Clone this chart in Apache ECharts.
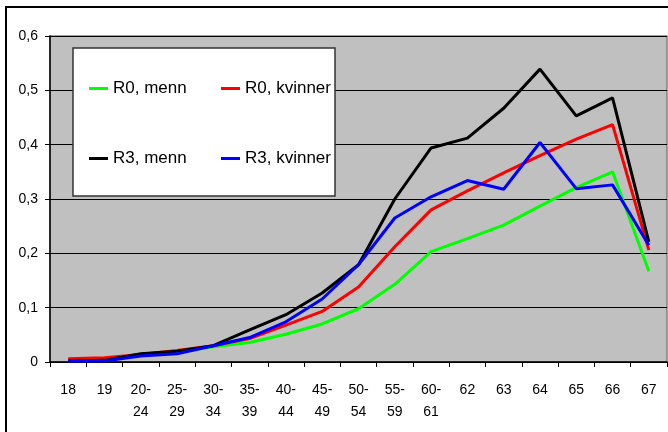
<!DOCTYPE html>
<html>
<head>
<meta charset="utf-8">
<script src="https://cdn.jsdelivr.net/npm/echarts@6/dist/echarts.min.js"></script>
<style>
  html, body { margin: 0; padding: 0; background: #fff; }
  #chart { width: 668px; height: 432px; }
</style>
</head>
<body>
<div id="chart"></div>
<script>
var categories = ['18', '19', '20-\n24', '25-\n29', '30-\n34', '35-\n39', '40-\n44', '45-\n49',
    '50-\n54', '55-\n59', '60-\n61', '62', '63', '64', '65', '66', '67'];
var r0Menn = [0.003, 0.004, 0.012, 0.018, 0.028, 0.036, 0.051, 0.070, 0.098, 0.143, 0.203, 0.227, 0.252, 0.287, 0.321, 0.350, 0.167];
var r0Kvinner = [0.006, 0.008, 0.014, 0.021, 0.030, 0.043, 0.068, 0.093, 0.138, 0.212, 0.280, 0.315, 0.348, 0.380, 0.410, 0.437, 0.206];
var r3Menn = [0.002, 0.003, 0.015, 0.020, 0.030, 0.059, 0.087, 0.127, 0.179, 0.300, 0.394, 0.412, 0.467, 0.539, 0.453, 0.486, 0.221];
var r3Kvinner = [0.002, 0.002, 0.011, 0.015, 0.030, 0.045, 0.074, 0.116, 0.179, 0.265, 0.304, 0.334, 0.318, 0.404, 0.319, 0.326, 0.215];

var font = '"Liberation Sans", Arial, sans-serif';

var chart = echarts.init(document.getElementById('chart'));

function line(name, data, color) {
    return {
        name: name,
        type: 'line',
        data: data,
        symbol: 'none',
        lineStyle: { color: color, width: 3 },
        itemStyle: { color: color }
    };
}

var legendCommon = {
    orient: 'vertical',
    itemWidth: 19,
    itemHeight: 3,
    itemGap: 53,
    icon: 'rect',
    textStyle: { fontFamily: font, fontSize: 17, color: '#000' }
};

chart.setOption({
    animation: false,
    backgroundColor: '#fff',
    graphic: [
        { type: 'rect', shape: { x: 6, y: 7, width: 700, height: 450 },
          style: { fill: 'none', stroke: '#000', lineWidth: 2 }, silent: true },
        { type: 'rect', shape: { x: 73, y: 48, width: 262, height: 148 }, z: 50,
          style: { fill: '#fff', stroke: '#333', lineWidth: 1.5 }, silent: true }
    ],
    legend: [
        Object.assign({ left: 84, top: 75, data: ['R0, menn', 'R3, menn'], z: 60 }, legendCommon),
        Object.assign({ left: 216, top: 75, data: ['R0, kvinner', 'R3, kvinner'], z: 60 }, legendCommon)
    ],
    grid: {
        left: 50, right: 1, top: 36, bottom: 70,
        show: true,
        backgroundColor: '#c0c0c0',
        borderColor: '#808080',
        borderWidth: 1.5
    },
    xAxis: {
        type: 'category',
        data: categories,
        boundaryGap: true,
        axisLine: { lineStyle: { color: '#000', width: 1.5 } },
        axisTick: { show: true, length: 5, lineStyle: { color: '#000' } },
        axisLabel: {
            interval: 0, color: '#000', fontFamily: font, fontSize: 14,
            margin: 17, lineHeight: 22
        },
        splitLine: { show: false }
    },
    yAxis: {
        type: 'value',
        min: 0, max: 0.6, interval: 0.1,
        axisLine: { show: true, lineStyle: { color: '#000', width: 1.5 } },
        axisTick: { show: true, length: 5, lineStyle: { color: '#000' } },
        axisLabel: {
            color: '#000', fontFamily: font, fontSize: 14, margin: 12,
            formatter: function (v) { return v === 0 ? '0' : v.toFixed(1).replace('.', ','); }
        },
        splitLine: { lineStyle: { color: '#000', width: 1.2 } }
    },
    series: [
        line('R0, menn', r0Menn, '#00ff00'),
        line('R0, kvinner', r0Kvinner, '#ff0000'),
        line('R3, menn', r3Menn, '#000000'),
        line('R3, kvinner', r3Kvinner, '#0000ff')
    ]
});
</script>
</body>
</html>
